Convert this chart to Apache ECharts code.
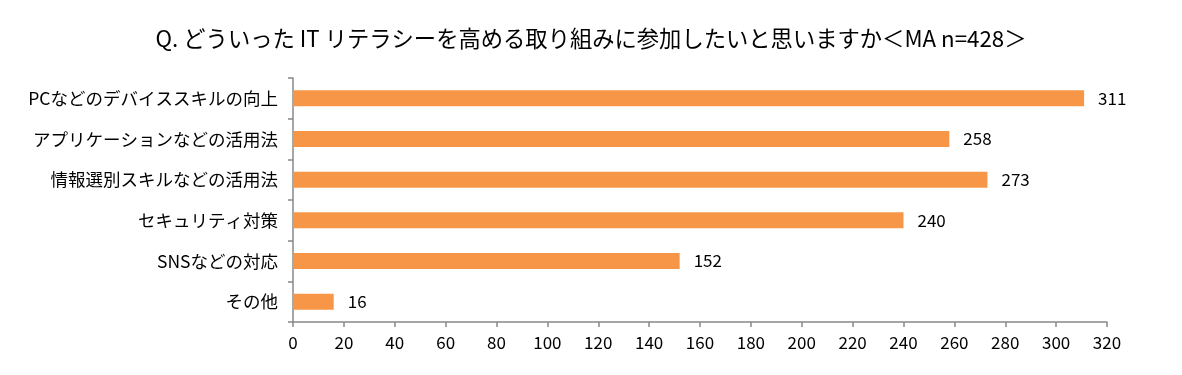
<!DOCTYPE html>
<html>
<head>
<meta charset="utf-8">
<script src="https://cdn.jsdelivr.net/npm/echarts@6/dist/echarts.min.js"></script>
<style>
  html, body { margin: 0; padding: 0; background: #fff; }
  #main { width: 1182px; height: 375px; }
</style>
</head>
<body>
<div id="main"></div>
<script>
const titleText = "Q. どういった IT リテラシーを高める取り組みに参加したいと思いますか＜MA n=428＞";
const categories = [
  "PCなどのデバイススキルの向上",
  "アプリケーションなどの活用法",
  "情報選別スキルなどの活用法",
  "セキュリティ対策",
  "SNSなどの対応",
  "その他",
];
const values = [311, 258, 273, 240, 152, 16];

const font = '"Noto Sans CJK JP", "Noto Sans", sans-serif';
const chart = echarts.init(document.getElementById("main"));

chart.setOption({
  animation: false,
  textStyle: { fontFamily: font },
  title: {
    text: titleText,
    left: "center",
    top: 22,
    textStyle: { fontSize: 22.3, fontWeight: "normal", color: "#000", fontFamily: font },
  },
  grid: { left: 293, right: 75, top: 78, bottom: 53 },
  xAxis: {
    type: "value",
    min: 0,
    max: 320,
    interval: 20,
    splitLine: { show: false },
    axisLine: { show: true, lineStyle: { color: "#888", width: 1.5 } },
    axisTick: { show: true, length: 5, lineStyle: { color: "#888", width: 1.5 } },
    axisLabel: { color: "#000", fontSize: 17, margin: 12, fontFamily: font },
  },
  yAxis: {
    type: "category",
    inverse: true,
    data: categories,
    axisLine: { show: true, lineStyle: { color: "#888", width: 1.5 } },
    axisTick: { show: true, length: 5, lineStyle: { color: "#888", width: 1.5 } },
    axisLabel: { color: "#000", fontSize: 17.5, margin: 15, fontFamily: font },
  },
  series: [
    {
      type: "bar",
      data: values,
      barWidth: 16,
      itemStyle: { color: "#F79646" },
      label: {
        show: true,
        position: "right",
        distance: 14,
        color: "#000",
        fontSize: 17,
        fontFamily: font,
      },
    },
  ],
});
</script>
</body>
</html>
